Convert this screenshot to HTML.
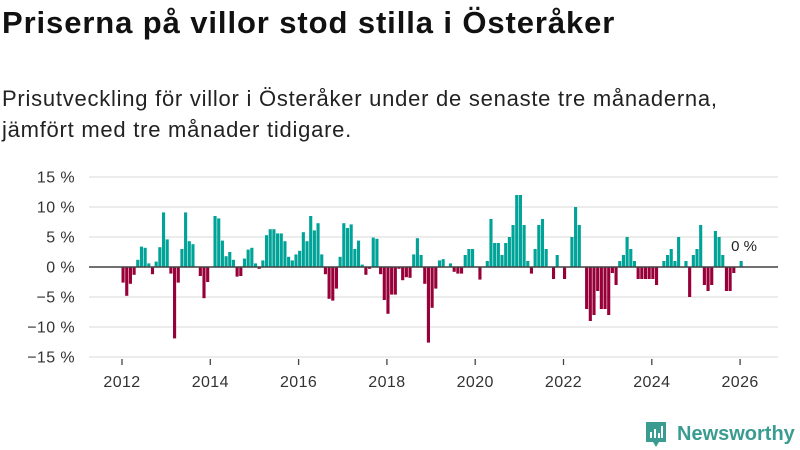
<!DOCTYPE html>
<html><head><meta charset="utf-8"><style>
body{margin:0;background:#fff;font-family:"Liberation Sans",sans-serif;width:800px;height:450px;overflow:hidden;position:relative}
h1{position:absolute;left:2px;top:5px;margin:0;font-size:31px;font-weight:bold;color:#111;letter-spacing:0.9px;white-space:nowrap}
.sub{position:absolute;left:2px;top:83px;font-size:22px;color:#222;line-height:31px;letter-spacing:0.75px;white-space:nowrap}
svg{position:absolute;left:0;top:0}
</style></head><body>
<h1>Priserna på villor stod stilla i Österåker</h1>
<div class="sub">Prisutveckling för villor i Österåker under de senaste tre månaderna,<br>jämfört med tre månader tidigare.</div>
<svg id="chart" width="800" height="450"></svg>
<script>
const startYear = 2012;
const yTicks = [15,10,5,0,-5,-10,-15];
const xTickYears = [2012,2014,2016,2018,2020,2022,2024,2026];
const values = [-2.6,-4.8,-2.8,-1.3,1.2,3.4,3.2,0.6,-1.2,0.9,3.3,9.1,4.6,-1.1,-11.9,-2.6,3,9.1,4.3,3.8,0,-1.5,-5.2,-2.5,0,8.5,8.1,4.4,1.8,2.5,1.2,-1.6,-1.5,1.4,2.9,3.2,0.6,-0.3,1.1,5.3,6.3,6.3,5.6,5.6,4.3,1.7,1.1,2.1,2.7,5.8,4.3,8.5,6.1,7.3,2.1,-1.2,-5.3,
-5.6,-3.6,1.7,7.3,6.5,7.1,3,4.4,0.4,-1.3,-0.3,4.9,4.7,-1.2,-5.5,-7.8,-4.6,-4.6,-0.3,-2.2,-1.7,-1.8,2.1,4.8,2,-2.8,-12.6,-6.8,-3.6,1.1,1.3,0,0.6,-0.8,-1.1,-1.1,2,3,3,0,-2.1,0,1,8,4,4,2,4,5,7,12,12,7,1,-1.1,3,7,8,3,
0,-2,2,0,-2,0,5,10,7,0,-7,-9,-8,-4,-7,-7,-8,-1,-3,1,2,5,3,1,-2,-2,-2,-2,-2,-3,0,1,2,3,1,5,0,1,-5,2,3,7,-3,-4,-3,6,5,2,-4,-4,-1,0,1];
const lastLabel = "0 %";
const NS="http://www.w3.org/2000/svg";
const svg=document.getElementById('chart');
const x=t=>122+(t-2012)*44.15;
const y=v=>267-v*6;
function mk(tag,attrs,parent){const e=document.createElementNS(NS,tag);for(const k in attrs)e.setAttribute(k,attrs[k]);(parent||svg).appendChild(e);return e;}
yTicks.forEach(v=>{
  const l=mk('line',{x1:89,x2:778,y1:y(v),y2:y(v),stroke:'#e0e0e0','stroke-width':1.3});
  
  
  const t=mk('text',{x:75,y:y(v)+5.5,'text-anchor':'end','font-size':16,'letter-spacing':0.4,fill:'#333','font-family':'Liberation Sans, sans-serif'});
  t.textContent=(v<0?'\u2212'+(-v):v)+' %';
  
  
});
xTickYears.forEach(yr=>{
  const l=mk('line',{x1:x(yr),x2:x(yr),y1:359,y2:365,stroke:'#444','stroke-width':1.3});
  
  
  const t=mk('text',{x:x(yr),y:387,'text-anchor':'middle','font-size':16,'letter-spacing':0.4,fill:'#333','font-family':'Liberation Sans, sans-serif'});
  t.textContent=yr;
  
  
});
const bw=44.15/12;
values.forEach((v,i)=>{
  const t=startYear+i/12;
  const r=mk('rect',{x:x(t)-0.5,y:Math.min(y(v),y(0)),width:bw*0.85,height:Math.abs(y(v)-y(0)),fill:v>=0?'#00a398':'#970038'});
  
  
});
const z=mk('line',{x1:89,x2:778,y1:y(0),y2:y(0),stroke:'#444','stroke-width':1.5});


const lt=mk('text',{x:744,y:251,'text-anchor':'middle','font-size':15,fill:'#222','font-family':'Liberation Sans, sans-serif'});
lt.textContent=lastLabel;


</script>
<svg width="800" height="450" style="pointer-events:none">
<path d="M646,422 h20 v20 h-7 l-3,5 l-3,-5 h-7 z" fill="#3a9c91"/>
<rect x="650" y="432" width="2" height="6" fill="#fff"/><rect x="654" y="429" width="2" height="9" fill="#fff"/><rect x="658" y="433" width="2" height="5" fill="#fff"/><rect x="661" y="426" width="2" height="12" fill="#fff"/>
<text x="677" y="440" font-size="20" font-family="Liberation Sans, sans-serif" fill="#3a9c91" font-weight="bold">Newsworthy</text>
</svg>
</body></html>
